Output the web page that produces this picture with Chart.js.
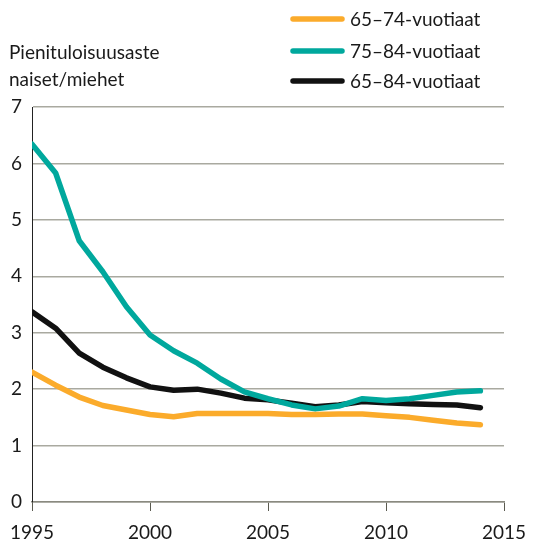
<!DOCTYPE html>
<html>
<head>
<meta charset="utf-8">
<script src="https://cdn.jsdelivr.net/npm/chart.js@4"></script>
<style>
  html, body { margin: 0; padding: 0; background: #fff; }
</style>
</head>
<body>
<canvas id="chart" width="546" height="542"></canvas>
<script>
const years = [1995, 1996, 1997, 1998, 1999, 2000, 2001, 2002, 2003, 2004,
               2005, 2006, 2007, 2008, 2009, 2010, 2011, 2012, 2013, 2014];
const age6574 = [2.30, 2.07, 1.86, 1.71, 1.63, 1.55, 1.51, 1.57, 1.57, 1.57,
                 1.57, 1.55, 1.55, 1.56, 1.56, 1.53, 1.50, 1.45, 1.40, 1.37];
const age7584 = [6.34, 5.83, 4.63, 4.08, 3.46, 2.96, 2.68, 2.46, 2.18, 1.95,
                 1.83, 1.72, 1.65, 1.70, 1.83, 1.80, 1.83, 1.89, 1.95, 1.97];
const age6584 = [3.37, 3.08, 2.64, 2.39, 2.20, 2.04, 1.98, 2.00, 1.93, 1.84,
                 1.81, 1.75, 1.69, 1.72, 1.78, 1.76, 1.74, 1.73, 1.72, 1.67];
const seriesLabels = ["65\u201374-vuotiaat", "75\u201384-vuotiaat", "65\u201384-vuotiaat"];
const colors = ["#fbab2b", "#00a89d", "#111111"];
const yTitle = ["Pienituloisuusaste", "naiset/miehet"];

const FONT = "Lato, 'Open Sans', sans-serif";

const toPoints = vals => vals.map((v, i) => ({ x: years[i], y: v }));

// legend and y title drawn on the canvas
const extras = {
    id: "extras",
    afterDraw(chart) {
        const c = chart.ctx;
        c.save();
        c.fillStyle = "#1a1a1a";
        c.textBaseline = "middle";
        c.font = "19px " + FONT;
        c.fillText(yTitle[0], 9, 53);
        c.fillText(yTitle[1], 9, 80);
        const rows = [19, 51, 81];
        seriesLabels.forEach((lab, i) => {
            c.strokeStyle = colors[i];
            c.lineWidth = 5.5;
            c.lineCap = "round";
            c.beginPath();
            c.moveTo(293, rows[i]);
            c.lineTo(342, rows[i]);
            c.stroke();
            c.fillText(lab, 350, rows[i] + 1);
        });
        c.restore();
    }
};

new Chart(document.getElementById("chart"), {
    type: "line",
    data: {
        datasets: [age6574, age7584, age6584].map((vals, i) => ({
            label: seriesLabels[i],
            data: toPoints(vals),
            borderColor: colors[i],
            borderWidth: 5.5,
            borderCapStyle: "round",
            borderJoinStyle: "round",
            pointRadius: 0,
            tension: 0
        }))
    },
    options: {
        responsive: false,
        animation: false,
        layout: { padding: { top: 107, right: 42, left: 0, bottom: 0 } },
        plugins: { legend: { display: false }, tooltip: { enabled: false } },
        scales: {
            x: {
                type: "linear",
                min: 1995,
                max: 2015,
                ticks: { stepSize: 5, color: "#1a1a1a", font: { family: FONT, size: 19 }, padding: 10,
                         callback: v => String(v) },
                grid: { drawOnChartArea: false, color: "#5a5a50", tickLength: 9, lineWidth: 1 },
                border: { color: "#8a8a80", width: 1.5 },
                afterFit: s => { s.height = 40; }
            },
            y: {
                min: 0,
                max: 7,
                ticks: { stepSize: 1, color: "#1a1a1a", font: { family: FONT, size: 19 }, padding: 10 },
                grid: { color: "#a9a9a0", lineWidth: 1.5, drawTicks: false },
                border: { color: "#222", width: 1 },
                afterFit: s => { s.width = 30; }
            }
        }
    },
    plugins: [extras]
});
</script>
</body>
</html>
